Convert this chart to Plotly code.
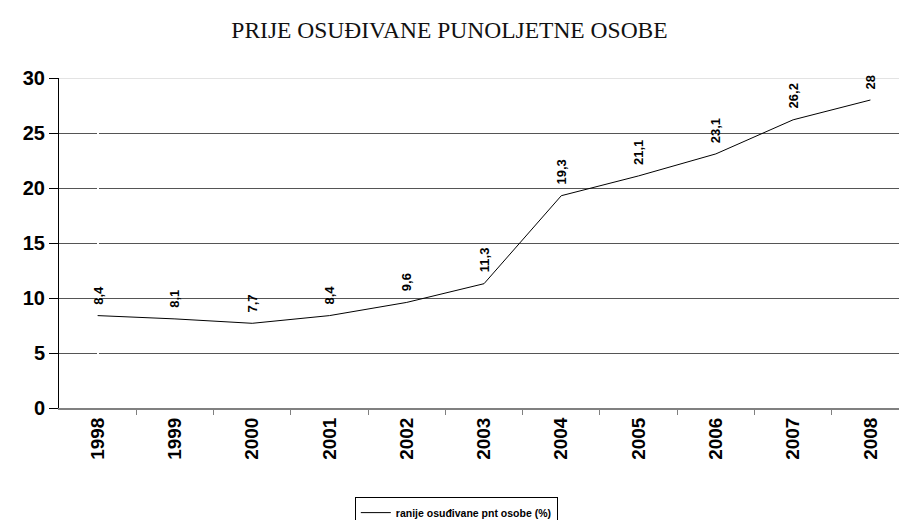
import plotly.graph_objects as go

years = ["1998", "1999", "2000", "2001", "2002", "2003", "2004", "2005", "2006", "2007", "2008"]
values = [8.4, 8.1, 7.7, 8.4, 9.6, 11.3, 19.3, 21.1, 23.1, 26.2, 28]
labels = ["8,4", "8,1", "7,7", "8,4", "9,6", "11,3", "19,3", "21,1", "23,1", "26,2", "28"]
y_ticks = [0, 5, 10, 15, 20, 25, 30]
series_name = "ranije osuđivane pnt osobe (%)"
title = "PRIJE OSUĐIVANE PUNOLJETNE OSOBE"

SANS = "Liberation Sans, Arial, sans-serif"

fig = go.Figure()
fig.add_trace(go.Scatter(x=list(range(len(years))), y=values, mode="lines",
                         name="<b>" + series_name + "</b>",
                         line=dict(color="black", width=1)))

for i, (v, lab) in enumerate(zip(values, labels)):
    fig.add_annotation(x=i, y=v, text="<b>" + lab + "</b>", textangle=-90, showarrow=False,
                       yanchor="bottom", xanchor="center", yshift=9,
                       font=dict(family=SANS, size=13, color="black"))

fig.add_shape(type="line", xref="paper", yref="y", x0=0, x1=1, y0=30, y1=30,
              line=dict(color="#c8c8c8", width=1), layer="above")

fig.update_layout(
    width=899, height=520,
    margin=dict(l=59, r=0, t=77.5, b=111.5, autoexpand=False),
    paper_bgcolor="white", plot_bgcolor="white",
    title=dict(text=title, x=0.5, xanchor="center", y=0.942, yanchor="middle",
               yref="container",
               font=dict(family="Liberation Serif, Times New Roman, serif", size=23.5, color="#111")),
    showlegend=True,
    legend=dict(orientation="h", x=0.473, xanchor="center", yref="container", y=0.044, yanchor="top",
                bordercolor="black", borderwidth=1,
                font=dict(family=SANS, size=10.5, color="black"),
                itemwidth=30),
    xaxis=dict(range=[-0.5, 10.37], tickangle=-90, automargin=False,
               tickvals=list(range(len(years))), ticktext=["<b>" + y + "</b>" for y in years],
               tickfont=dict(family=SANS, size=19, color="black"),
               showgrid=False, showline=True, linecolor="#808080", linewidth=2,
               ticks="", zeroline=False),
    xaxis2=dict(overlaying="x", range=[-0.5, 10.37], tickvals=[i + 0.5 for i in range(len(years))],
                showticklabels=False, ticks="outside", ticklen=6, tickcolor="#808080",
                showgrid=False, side="bottom", anchor="y", automargin=False),
    yaxis=dict(range=[0, 30], tickvals=y_ticks, ticktext=["<b>%d</b>" % t for t in y_ticks],
               tickfont=dict(family=SANS, size=20, color="black"), automargin=False,
               showgrid=True, gridcolor="#555555", gridwidth=1,
               showline=True, linecolor="black", linewidth=1,
               ticks="outside", ticklen=9, tickcolor="black", zeroline=False),
)
fig.add_trace(go.Scatter(x=[0], y=[None], xaxis="x2", showlegend=False, hoverinfo="skip"))

fig.write_html("out.html", config={"displayModeBar": False},
               post_script="document.body.style.margin='0';document.body.style.overflow='hidden';")
